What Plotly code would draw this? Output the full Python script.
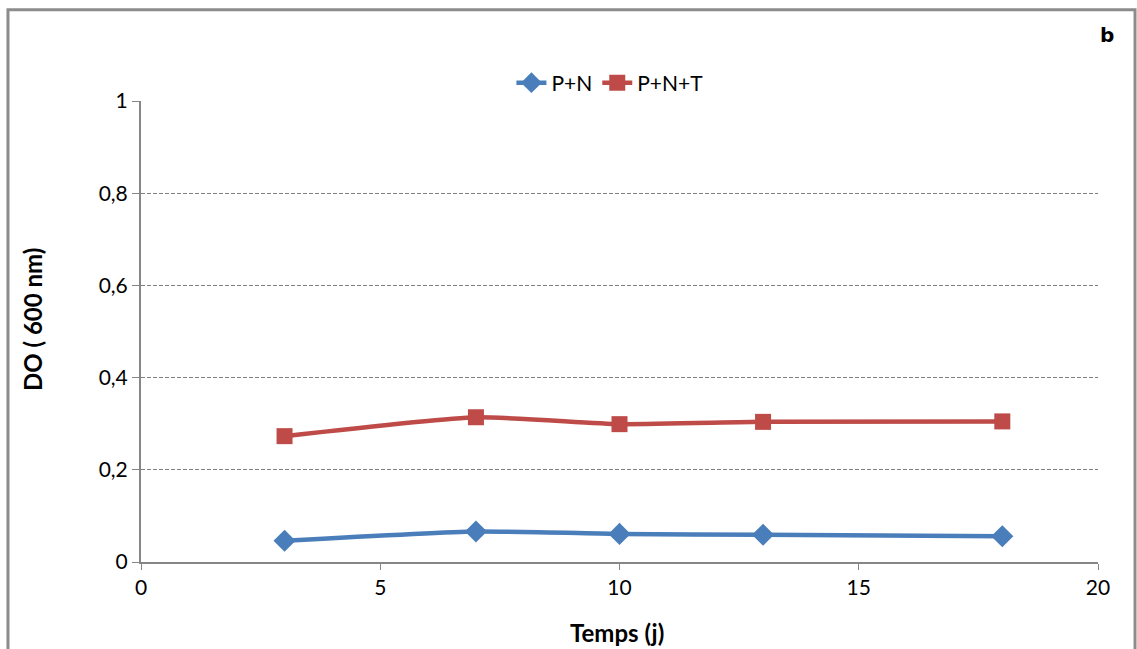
import plotly.graph_objects as go

days = [3, 7, 10, 13, 18]
pn = [0.046, 0.066, 0.061, 0.059, 0.056]
pnt = [0.273, 0.314, 0.299, 0.304, 0.305]

x_ticks = [0, 5, 10, 15, 20]
y_ticks = [0, 0.2, 0.4, 0.6, 0.8, 1]
y_tick_labels = ["0", "0,2", "0,4", "0,6", "0,8", "1"]

FONT = "Lato, Open Sans, sans-serif"

fig = go.Figure()
fig.add_trace(go.Scatter(
    x=days, y=pn, name="P+N", mode="lines+markers",
    line=dict(color="#4A7EBB", width=4.5, shape="spline", smoothing=0.5),
    marker=dict(symbol="diamond", size=17, color="#4A7EBB"),
))
fig.add_trace(go.Scatter(
    x=days, y=pnt, name="P+N+T", mode="lines+markers",
    line=dict(color="#BE4B48", width=4.5, shape="spline", smoothing=0.5),
    marker=dict(symbol="square", size=16, color="#BE4B48"),
))

fig.update_layout(
    width=1137, height=649,
    margin=dict(l=141, r=39, t=101, b=87),
    paper_bgcolor="white", plot_bgcolor="white",
    font=dict(family=FONT, size=21, color="black"),
    showlegend=True,
    legend=dict(orientation="h", x=0.49, xanchor="center", y=1.039, yanchor="middle",
                font=dict(size=21), tracegroupgap=0),
    xaxis=dict(range=[0, 20], tickvals=x_ticks, ticks="outside", ticklen=6,
               tickcolor="#868686", showline=True, linecolor="#868686", linewidth=2,
               showgrid=False, zeroline=False, fixedrange=True,
               tickfont=dict(size=21)),
    yaxis=dict(range=[0, 1], tickvals=y_ticks, ticktext=y_tick_labels, ticks="outside",
               ticklen=7, tickcolor="#868686", showline=True, linecolor="#868686", linewidth=2,
               showgrid=True, gridcolor="#808080", griddash="4px,2px", gridwidth=1.2,
               zeroline=False, fixedrange=True, tickfont=dict(size=21)),
)

fig.add_annotation(text="<b>Temps (j)</b>", xref="paper", yref="paper",
                   x=(617 - 141) / 957, y=(562 - 632) / 461, showarrow=False,
                   xanchor="center", yanchor="middle", font=dict(size=24))
fig.add_annotation(text="<b>DO ( 600 nm)</b>", xref="paper", yref="paper",
                   x=(32 - 141) / 957, y=(562 - 320) / 461, showarrow=False,
                   textangle=-90, xanchor="center", yanchor="middle", font=dict(size=24))

fig.add_shape(type="rect", xref="paper", yref="paper",
              x0=-0.139, x1=1.0387, y0=-0.3, y1=1.198,
              line=dict(color="#8C8C8C", width=3), layer="below")
fig.add_annotation(text="<b>b</b>", xref="paper", yref="paper",
                   x=(1107 - 141) / 957, y=(562 - 35) / 461, showarrow=False,
                   xanchor="center", yanchor="middle",
                   font=dict(family="DejaVu Sans", size=20, color="black"))

fig.write_html("out.html")
